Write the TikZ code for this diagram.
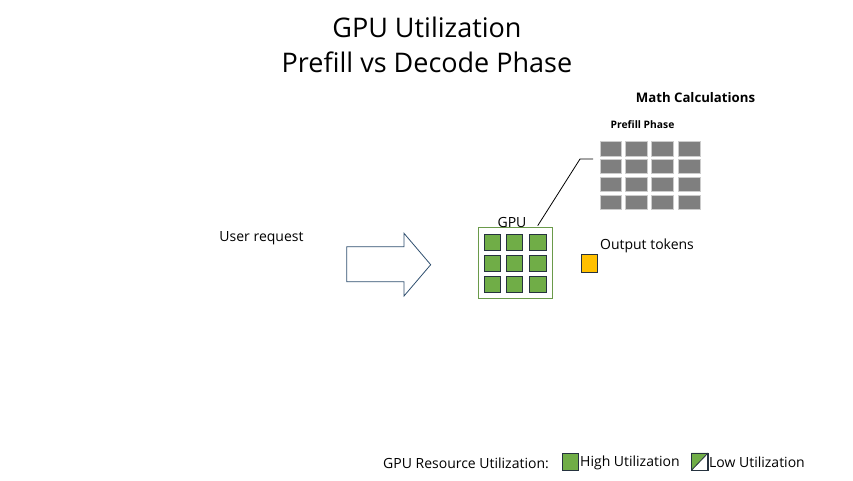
\documentclass[tikz,border=0pt]{standalone}
\usepackage{fontspec}
\setmainfont{Open Sans}
\begin{document}
\begin{tikzpicture}[x=1pt,y=-1pt]
\definecolor{gcell}{HTML}{70AD47}
\definecolor{gbox}{HTML}{6A9A4A}
\definecolor{gray1}{HTML}{7F7F7F}
\definecolor{yel}{HTML}{FFC000}
\definecolor{arrowc}{HTML}{2F4F6F}
\definecolor{cellb}{HTML}{26323F}
\tikzset{
  txt/.style={inner sep=0pt, font=\fontsize{14}{16}\selectfont},
  graycell/.style={fill=gray1, draw=gray!40, line width=1pt},
  greencell/.style={fill=gcell, draw=cellb, line width=0.8pt},
}
\useasboundingbox (0,0) rectangle (853,480);
% title
\node[txt, font=\fontsize{27}{30}\selectfont] (t1) at (427,27) {GPU Utilization};
\node[txt, font=\fontsize{27}{30}\selectfont] (t2) at (427,62) {Prefill vs Decode Phase};
% math calc
\node[txt, font=\bfseries\fontsize{13.2}{15}\selectfont] (math) at (695.5,98) {Math Calculations};
\node[txt, font=\bfseries\fontsize{10.3}{12}\selectfont] (pp) at (642.5,125) {Prefill Phase};
% gray grid
\foreach \i/\x in {0/600,1/625.7,2/651.7,3/678.3}{
  \foreach \j/\y in {0/141.7,1/159.3,2/177.3,3/195}{
    \path[graycell] (\x,\y) rectangle ++(21.7,14.3);
  }
}
\coordinate (gridL) at (593,159);
% GPU box
\node[draw=gbox, line width=0.8pt, minimum width=74pt, minimum height=71pt, inner sep=0pt] (gpu) at (515,262.5) {};
\node[txt] (gpul) at (512,222) {GPU};
\foreach \x in {484,506,529.3}{
  \foreach \y in {234,255,276}{
    \path[greencell] (\x,\y) rectangle ++(16.7,16);
  }
}
\coordinate (lineS) at (537.7,225.7);
\draw[black, line width=0.8pt] (lineS) -- (580,159) -- (gridL);
% output token
\node[fill=yel, draw=cellb, line width=0.8pt, minimum width=16.3pt, minimum height=18.3pt, inner sep=0pt] (tok) at (589.2,263.2) {};
\node[txt] (outl) at (647,245.5) {Output tokens};
% user request + arrow
\node[txt] (ur) at (261.5,238.5) {User request};
\draw[arrowc, line width=0.8pt, fill=white]
  (346.7,246.7) -- (404,246.7) -- (404,233.3) -- (430.7,264.7) -- (404,296) -- (404,281.7) -- (346.7,281.7) -- cycle;
% legend
\node[txt, anchor=west] (leg) at (383,463) {GPU Resource Utilization:};
\node[fill=gcell, draw=cellb, line width=0.8pt, minimum width=16pt, minimum height=16.7pt, inner sep=0pt] (hi) at (570.5,461.7) {};
\node[txt, anchor=west] (hil) at (580,463) {High Utilization};
\node[draw=cellb, line width=0.8pt, minimum width=16pt, minimum height=16.7pt, inner sep=0pt] (lo) at (699.7,461.7) {};
\fill[gcell] (lo.south west) -- (lo.north east) -- (lo.north west) -- cycle;
\draw[cellb, line width=0.8pt] (lo.south west) -- (lo.north east);
\draw[cellb, line width=0.8pt] (lo.south west) rectangle (lo.north east);
\node[txt, anchor=west] (lol) at (709,462) {Low Utilization};
\end{tikzpicture}
\end{document}
